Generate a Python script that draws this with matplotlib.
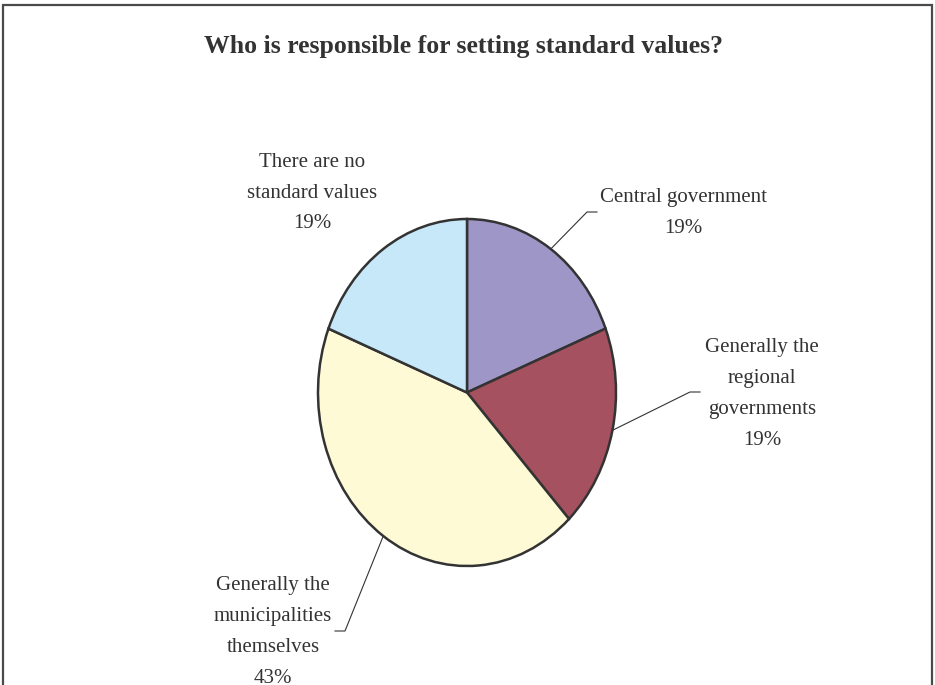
import matplotlib
matplotlib.use("Agg")
import matplotlib.pyplot as plt
from matplotlib.patches import Rectangle
import numpy as np

# data
categories = ["Central government",
              "Generally the\nregional\ngovernments",
              "Generally the\nmunicipalities\nthemselves",
              "There are no\nstandard values"]
shares = [19, 19, 43, 19]
colors = ["#9d96c7", "#a5515f", "#fffad6", "#c6e8f8"]

plt.rcParams['font.family'] = ['Liberation Serif', 'DejaVu Serif']

W, H = 935, 685
fig = plt.figure(figsize=(W / 100, H / 100), dpi=100)

# outer frame (bottom edge runs off the picture)
fig.patches.append(Rectangle((3 / W, -0.1), 929 / W, 1.1 - 5 / H,
                             transform=fig.transFigure, fill=False,
                             edgecolor="#4a4a4a", linewidth=1.6))

fig.text(463 / W, 1 - 47 / H, "Who is responsible for setting standard values?",
         ha="center", va="center", fontsize=18.5, fontweight="bold", color="#333333")

# pie box in pixels
ax = fig.add_axes([318 / W, 1 - 566 / H, 298 / W, 347 / H])
wedges, _ = ax.pie(shares, colors=colors, startangle=90, counterclock=False,
                   wedgeprops=dict(edgecolor="#333333", linewidth=1.8))
ax.set_aspect("auto")
ax.set_xlim(-1, 1)
ax.set_ylim(-1, 1)
ax.axis("off")


def px(x, y):
    # pixel position (from top-left) -> data coords
    return ax.transData.inverted().transform((x, H - y))


# label centre, elbow and end of leader line (pixels); None = no leader
layout = [
    ((683, 213), (587, 212), (597, 212)),
    ((762, 394), (690, 392), (700, 392)),
    ((273, 632), (345, 631), (335, 631)),
    ((312, 193), None, None),
]

for w, cat, val, (lab, elbow, end) in zip(wedges, categories, shares, layout):
    mid = np.deg2rad((w.theta1 + w.theta2) / 2)
    x0, y0 = np.cos(mid), np.sin(mid)
    tx, ty = px(*lab)
    ax.text(tx, ty, f"{cat}\n{val}%", ha="center", va="center", fontsize=15,
            color="#333333", linespacing=1.85, clip_on=False)
    if elbow is not None:
        ex, ey = px(*elbow)
        nx, ny = px(*end)
        ax.plot([x0, ex, nx], [y0, ey, ny], color="#333333", linewidth=0.8,
                clip_on=False)

fig.savefig("out.png", dpi=100)
